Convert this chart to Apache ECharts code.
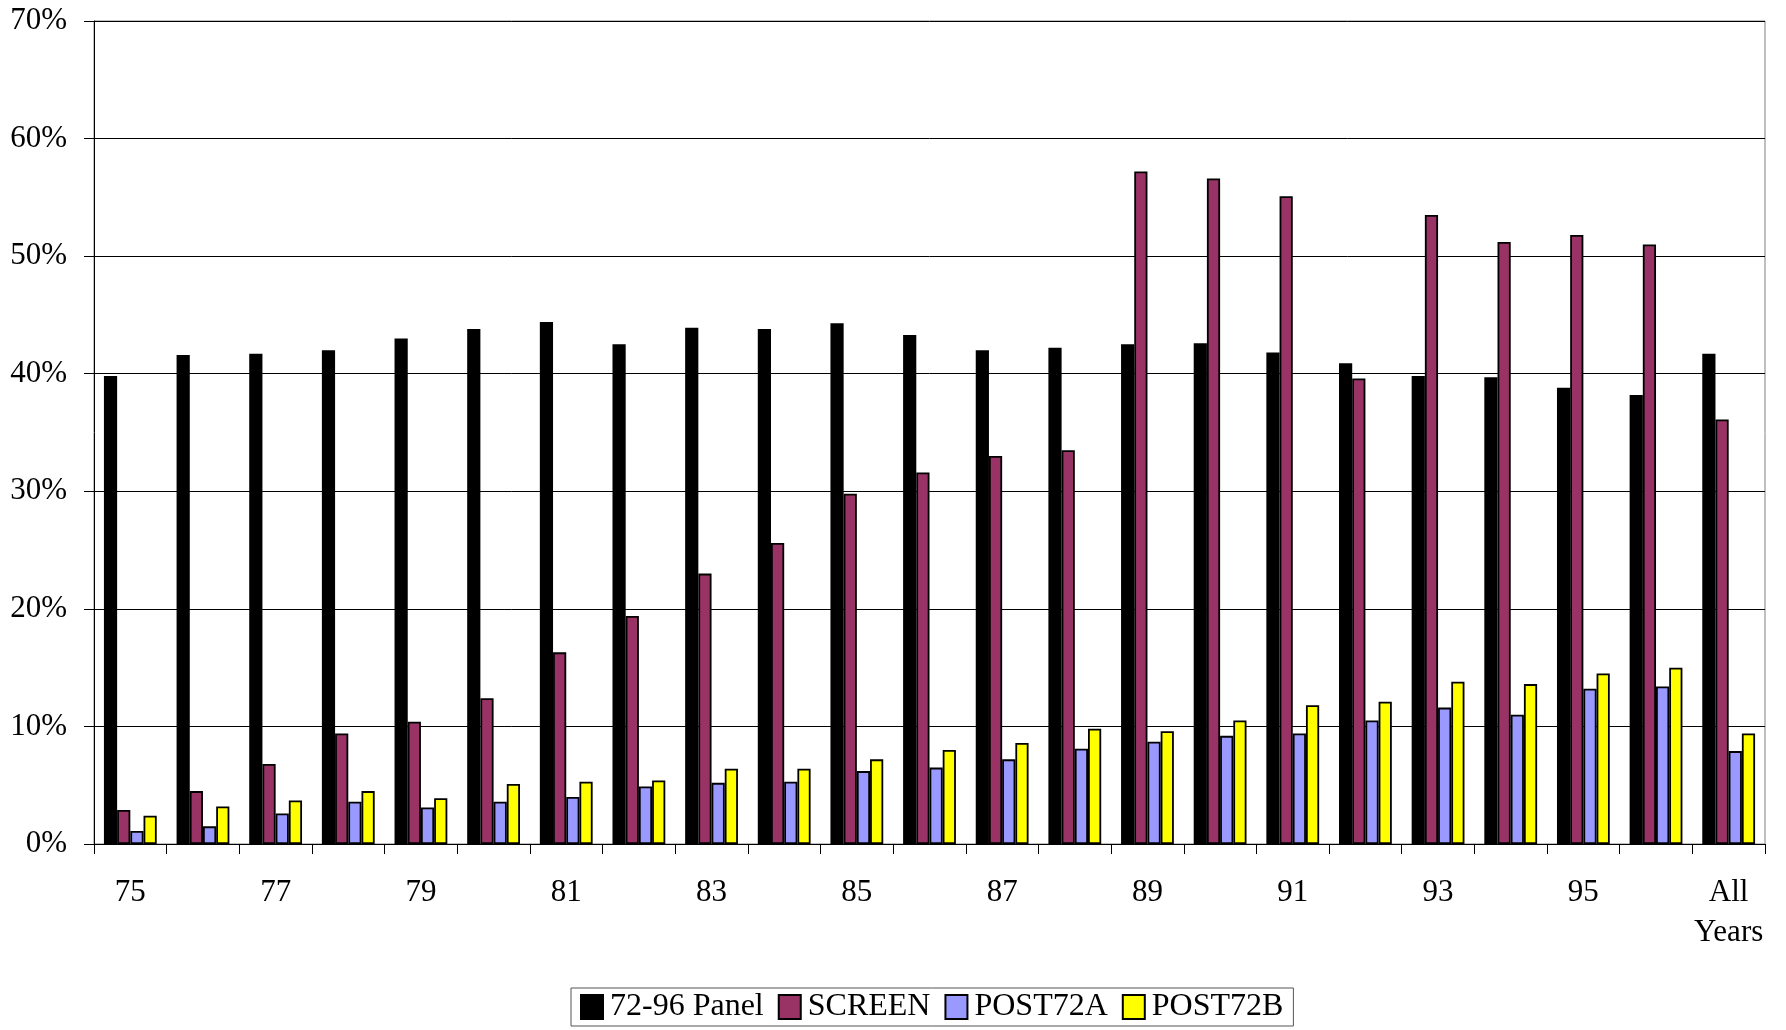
<!DOCTYPE html>
<html>
<head>
<meta charset="utf-8">
<script src="https://cdn.jsdelivr.net/npm/echarts@6/dist/echarts.min.js"></script>
<style>
html,body{margin:0;padding:0;background:#fff;}
#chart{width:1786px;height:1030px;}
</style>
</head>
<body>
<div id="chart"></div>
<script>
const categories = ['75','76','77','78','79','80','81','82','83','84','85','86','87','88','89','90','91','92','93','94','95','96','All\nYears'];
const seriesNames = ['72-96 Panel','SCREEN','POST72A','POST72B'];
const panel72_96 = [39.8,41.6,41.7,42.0,43.0,43.8,44.4,42.5,43.9,43.8,44.3,43.3,42.0,42.2,42.5,42.6,41.8,40.9,39.8,39.7,38.8,38.2,41.7];
const screen = [2.9,4.5,6.8,9.4,10.4,12.4,16.3,19.4,23.0,25.6,29.8,31.6,33.0,33.5,57.2,56.6,55.1,39.6,53.5,51.2,51.8,51.0,36.1];
const post72a = [1.1,1.5,2.6,3.6,3.1,3.6,4.0,4.9,5.2,5.3,6.2,6.5,7.2,8.1,8.7,9.2,9.4,10.5,11.6,11.0,13.2,13.4,7.9];
const post72b = [2.4,3.2,3.7,4.5,3.9,5.1,5.3,5.4,6.4,6.4,7.2,8.0,8.6,9.8,9.6,10.5,11.8,12.1,13.8,13.6,14.5,15.0,9.4];
const yTicks = [0,10,20,30,40,50,60,70];
const colors = ['#000000','#993366','#9999FF','#FFFF00'];

const FONT = "'Liberation Serif','Times New Roman',serif";
const chart = echarts.init(document.getElementById('chart'), null, {renderer:'canvas'});
const values = [panel72_96, screen, post72a, post72b];

chart.setOption({
  animation: false,
  backgroundColor: '#ffffff',
  grid: {left: 94, right: 21, top: 21, bottom: 186, show: true, borderColor: '#808080', borderWidth: 1},
  legend: {
    data: seriesNames,
    left: 571, top: 988,
    orient: 'horizontal',
    itemWidth: 22, itemHeight: 24, itemGap: 14,
    padding: [3, 10, 3, 9],
    borderColor: '#555', borderWidth: 1,
    icon: 'rect',
    textStyle: {fontFamily: FONT, fontSize: 32, color: '#000', padding: [0,0,0,2]}
  },
  xAxis: {
    type: 'category',
    data: categories,
    axisLine: {show: true, lineStyle: {color: '#000', width: 1}},
    axisTick: {show: true, interval: 0, length: 10, alignWithLabel: false, lineStyle: {color: '#000'}},
    axisLabel: {interval: 1, fontFamily: FONT, fontSize: 31, color: '#000', lineHeight: 40, margin: 29},
    splitLine: {show: false}
  },
  yAxis: {
    type: 'value',
    min: yTicks[0], max: yTicks[yTicks.length-1], interval: 10,
    axisLine: {show: true, lineStyle: {color: '#000', width: 1}},
    axisTick: {show: true, length: 10, lineStyle: {color: '#000'}},
    axisLabel: {formatter: '{value}%', fontFamily: FONT, fontSize: 31, color: '#000', margin: 27},
    splitLine: {show: true, lineStyle: {color: '#000', width: 1}}
  },
  series: seriesNames.map((n, i) => ({
    name: n,
    type: 'bar',
    data: values[i],
    barWidth: 13.2,
    barGap: '0%',
    itemStyle: {color: colors[i], borderColor: '#000', borderWidth: 1.8}
  }))
});
</script>
</body>
</html>
